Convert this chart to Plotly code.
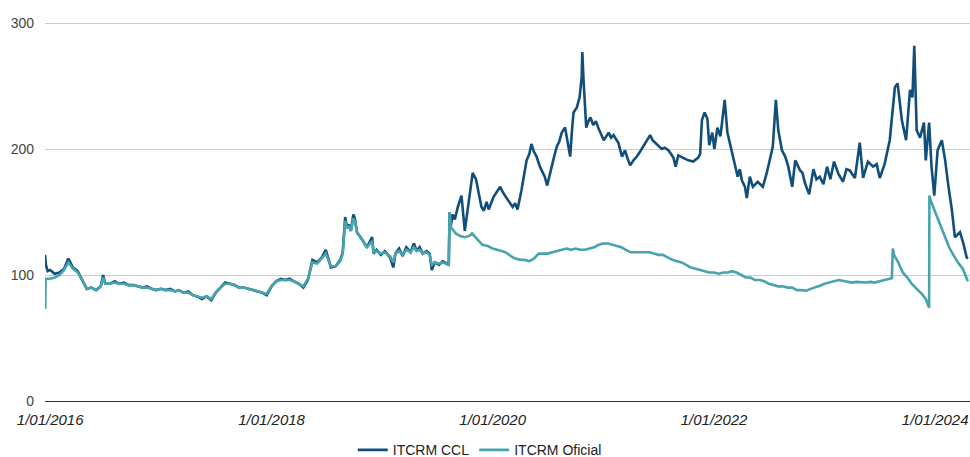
import plotly.graph_objects as go

series_names = ["ITCRM CCL", "ITCRM Oficial"]
series_colors = ["#114e7a", "#47a4ad"]

ccl_dates = [
    "2015-12-15", "2015-12-18", "2015-12-24",
    "2016-01-01", "2016-01-16", "2016-02-01", "2016-02-16", "2016-03-01", "2016-03-16",
    "2016-04-01", "2016-04-16", "2016-05-01", "2016-05-16", "2016-06-01", "2016-06-16",
    "2016-06-24", "2016-07-01", "2016-07-16", "2016-08-01", "2016-08-16", "2016-09-01",
    "2016-09-16", "2016-10-01", "2016-10-16", "2016-11-01", "2016-11-16", "2016-12-01",
    "2016-12-16",
    "2017-01-01", "2017-01-16", "2017-02-01", "2017-02-16", "2017-03-01", "2017-03-16",
    "2017-04-01", "2017-04-16", "2017-05-01", "2017-05-16", "2017-06-01", "2017-06-16",
    "2017-07-01", "2017-07-16", "2017-08-01", "2017-08-16", "2017-09-01", "2017-09-16",
    "2017-10-01", "2017-10-16", "2017-11-01", "2017-11-16", "2017-12-01", "2017-12-16",
    "2018-01-01", "2018-01-16", "2018-02-01", "2018-02-16", "2018-03-01", "2018-03-16",
    "2018-04-01", "2018-04-16", "2018-05-01", "2018-05-16", "2018-06-01", "2018-06-16",
    "2018-06-29", "2018-07-16", "2018-08-01", "2018-08-16", "2018-08-24",
    "2018-09-01", "2018-09-07", "2018-09-13", "2018-09-20", "2018-09-28", "2018-10-03",
    "2018-10-10", "2018-10-20", "2018-10-30", "2018-11-12", "2018-11-29", "2018-12-04",
    "2018-12-14", "2018-12-28",
    "2019-01-10", "2019-01-27", "2019-02-07", "2019-02-14", "2019-02-26", "2019-03-10",
    "2019-03-22", "2019-04-05", "2019-04-16", "2019-04-25", "2019-05-05", "2019-05-15",
    "2019-05-28", "2019-06-07", "2019-06-14", "2019-06-24", "2019-07-08", "2019-07-20",
    "2019-08-01", "2019-08-09", "2019-08-12", "2019-08-16", "2019-08-22", "2019-08-29",
    "2019-09-08", "2019-09-20", "2019-10-01", "2019-10-11", "2019-10-20", "2019-10-27",
    "2019-11-07", "2019-11-17", "2019-11-25", "2019-12-03", "2019-12-12", "2019-12-19",
    "2020-01-04", "2020-01-15", "2020-01-26", "2020-02-05", "2020-02-14", "2020-02-25",
    "2020-03-07", "2020-03-15", "2020-03-23", "2020-04-05", "2020-04-14", "2020-04-22",
    "2020-05-01", "2020-05-08", "2020-05-16", "2020-05-25", "2020-06-05", "2020-06-14",
    "2020-06-21", "2020-06-29", "2020-07-07", "2020-07-14", "2020-07-22", "2020-07-31",
    "2020-08-08", "2020-08-16", "2020-08-27", "2020-09-08", "2020-09-13", "2020-09-18",
    "2020-09-24", "2020-10-05", "2020-10-14", "2020-10-21", "2020-10-23", "2020-10-27",
    "2020-10-31", "2020-11-05", "2020-11-12", "2020-11-19", "2020-11-28", "2020-12-07",
    "2020-12-16", "2020-12-24",
    "2021-01-02", "2021-01-10", "2021-01-18", "2021-01-26", "2021-02-03", "2021-02-11",
    "2021-02-19", "2021-03-03", "2021-03-13", "2021-03-22", "2021-03-30", "2021-04-10",
    "2021-04-21", "2021-05-02", "2021-05-13", "2021-05-24", "2021-06-04", "2021-06-12",
    "2021-06-20", "2021-07-01", "2021-07-12", "2021-07-22", "2021-08-03", "2021-08-12",
    "2021-08-20", "2021-08-27", "2021-09-05", "2021-09-21", "2021-10-08", "2021-10-24",
    "2021-11-09", "2021-11-16", "2021-11-22", "2021-12-01", "2021-12-10", "2021-12-16",
    "2021-12-26",
    "2022-01-02", "2022-01-12", "2022-01-22", "2022-02-05", "2022-02-14", "2022-03-01",
    "2022-03-10", "2022-03-20", "2022-03-27", "2022-04-03", "2022-04-13", "2022-04-19",
    "2022-04-29", "2022-05-09", "2022-05-25", "2022-06-11", "2022-06-24", "2022-07-04",
    "2022-07-14", "2022-07-24", "2022-08-01", "2022-08-13", "2022-08-24", "2022-09-03",
    "2022-09-16", "2022-09-26", "2022-10-12", "2022-10-20", "2022-10-28", "2022-11-11",
    "2022-11-25", "2022-12-05", "2022-12-16", "2022-12-28",
    "2023-01-09", "2023-01-20", "2023-02-01", "2023-02-16", "2023-03-03", "2023-03-14",
    "2023-03-25", "2023-04-11", "2023-04-27", "2023-05-08", "2023-05-24", "2023-06-10",
    "2023-06-22", "2023-07-02", "2023-07-18", "2023-08-04", "2023-08-15", "2023-08-21",
    "2023-08-30", "2023-09-13", "2023-09-27", "2023-10-10", "2023-10-18", "2023-10-24",
    "2023-11-01", "2023-11-12", "2023-11-25", "2023-12-01", "2023-12-12", "2023-12-20",
    "2023-12-29",
    "2024-01-09", "2024-01-23", "2024-02-03", "2024-02-14", "2024-02-25", "2024-03-06",
    "2024-03-23", "2024-04-03", "2024-04-14", "2024-04-18",
]
ccl_values = [
    116, 108, 103,
    104, 101, 102, 105, 113, 106,
    103, 96, 89, 90, 88, 91,
    100, 93, 93, 95, 93, 94,
    92, 92, 91, 90, 91, 89,
    88,
    89, 88, 89, 87, 88, 86,
    87, 84, 83, 81, 83, 80,
    86, 90, 94, 93, 92, 90,
    90, 89, 88, 87, 86, 84,
    91, 95, 97, 96, 97, 95,
    93, 90, 96, 112, 110, 114,
    120, 106, 107, 112, 118,
    146, 138, 140, 135, 148, 145,
    134, 130, 127, 122, 130, 117,
    120, 116,
    119, 114, 106, 117, 121, 115,
    122, 118, 125, 119, 122, 117,
    119, 117, 104, 110, 108, 111,
    109, 108, 150, 139, 148, 144,
    154, 163, 135, 152, 168, 181,
    176, 162, 154, 151, 158, 152,
    162, 166, 170, 165, 162, 158,
    154, 157, 152, 167, 180, 191,
    196, 204, 198, 194, 186, 182,
    178, 171, 178, 186, 194, 202,
    206, 213, 217, 199, 194, 212,
    229, 233, 241, 257, 277, 255,
    240, 217, 222, 225, 219, 222,
    216, 212,
    207, 210, 213, 209, 211, 208,
    205, 194, 199, 192, 187, 191,
    194, 198, 202, 206, 211, 207,
    205, 202, 200, 201, 199, 196,
    193, 186, 195, 193, 191, 190,
    193, 196, 223, 229, 224, 203,
    213,
    200, 217, 210, 239, 213, 197,
    189, 178, 184, 175, 170, 161,
    178, 170, 174, 170, 181, 191,
    202, 239, 215, 199, 194, 186,
    170, 191, 183, 181, 173, 164,
    184, 176, 178, 172,
    186, 176, 190, 180, 174, 184,
    183, 177, 205, 177, 190, 186,
    188, 177, 188, 207, 231, 249,
    252, 223, 207, 247, 241, 282,
    215, 209, 221, 191, 221, 186,
    163,
    199, 207, 191, 170, 152, 130,
    134, 125, 114, 113,
]

ofi_dates = [
    "2015-12-15", "2015-12-16", "2015-12-17",
    "2016-01-01", "2016-01-16", "2016-02-01", "2016-02-16", "2016-03-01", "2016-03-16",
    "2016-04-01", "2016-04-16", "2016-05-01", "2016-05-16", "2016-06-01", "2016-06-16",
    "2016-06-24", "2016-07-01", "2016-07-16", "2016-08-01", "2016-08-16", "2016-09-01",
    "2016-09-16", "2016-10-01", "2016-10-16", "2016-11-01", "2016-11-16", "2016-12-01",
    "2016-12-16",
    "2017-01-01", "2017-01-16", "2017-02-01", "2017-02-16", "2017-03-01", "2017-03-16",
    "2017-04-01", "2017-04-16", "2017-05-01", "2017-05-16", "2017-06-01", "2017-06-16",
    "2017-07-01", "2017-07-16", "2017-08-01", "2017-08-16", "2017-09-01", "2017-09-16",
    "2017-10-01", "2017-10-16", "2017-11-01", "2017-11-16", "2017-12-01", "2017-12-16",
    "2018-01-01", "2018-01-16", "2018-02-01", "2018-02-16", "2018-03-01", "2018-03-16",
    "2018-04-01", "2018-04-16", "2018-05-01", "2018-05-16", "2018-06-01", "2018-06-16",
    "2018-06-29", "2018-07-16", "2018-08-01", "2018-08-16", "2018-08-24",
    "2018-09-01", "2018-09-07", "2018-09-13", "2018-09-20", "2018-09-28", "2018-10-03",
    "2018-10-10", "2018-10-20", "2018-10-30", "2018-11-12", "2018-11-29", "2018-12-04",
    "2018-12-14", "2018-12-28",
    "2019-01-10", "2019-01-27", "2019-02-07", "2019-02-14", "2019-02-26", "2019-03-10",
    "2019-03-22", "2019-04-05", "2019-04-16", "2019-04-25", "2019-05-05", "2019-05-15",
    "2019-05-28", "2019-06-07", "2019-06-14", "2019-06-24", "2019-07-08", "2019-07-20",
    "2019-08-01", "2019-08-09", "2019-08-12", "2019-08-16", "2019-09-01", "2019-09-16",
    "2019-10-01", "2019-10-16", "2019-10-25", "2019-11-09", "2019-11-28", "2019-12-16",
    "2020-01-01", "2020-01-16", "2020-02-01", "2020-02-13", "2020-03-01", "2020-03-16",
    "2020-04-01", "2020-04-16", "2020-05-01", "2020-05-16", "2020-06-01", "2020-06-16",
    "2020-07-01", "2020-07-16", "2020-08-01", "2020-08-16", "2020-09-01", "2020-09-16",
    "2020-10-01", "2020-10-16", "2020-11-01", "2020-11-16", "2020-12-01", "2020-12-16",
    "2021-01-01", "2021-01-16", "2021-02-01", "2021-02-16", "2021-03-01", "2021-03-16",
    "2021-04-01", "2021-04-16", "2021-05-01", "2021-05-16", "2021-06-01", "2021-06-16",
    "2021-07-01", "2021-07-16", "2021-08-01", "2021-08-16", "2021-09-01", "2021-09-16",
    "2021-10-01", "2021-10-16", "2021-11-01", "2021-11-16", "2021-12-01", "2021-12-16",
    "2022-01-01", "2022-01-16", "2022-02-01", "2022-02-16", "2022-03-01", "2022-03-16",
    "2022-04-01", "2022-04-16", "2022-05-01", "2022-05-16", "2022-06-01", "2022-06-16",
    "2022-07-01", "2022-07-16", "2022-08-01", "2022-08-16", "2022-09-01", "2022-09-16",
    "2022-10-01", "2022-10-16", "2022-11-01", "2022-11-16", "2022-12-01", "2022-12-16",
    "2023-01-01", "2023-01-16", "2023-02-01", "2023-02-16", "2023-03-01", "2023-03-16",
    "2023-04-01", "2023-04-16", "2023-05-01", "2023-05-16", "2023-06-01", "2023-06-16",
    "2023-07-01", "2023-07-16", "2023-08-01", "2023-08-11", "2023-08-14", "2023-08-18",
    "2023-09-01", "2023-09-16", "2023-10-01", "2023-10-16", "2023-11-01", "2023-11-16",
    "2023-12-01", "2023-12-12", "2023-12-13", "2023-12-16",
    "2024-01-01", "2024-01-16", "2024-02-01", "2024-02-16", "2024-03-01", "2024-03-16",
    "2024-04-01", "2024-04-18",
]
ofi_values = [
    74, 74, 97,
    97, 98, 100, 104, 110, 105,
    102, 96, 89, 90, 88, 91,
    98, 93, 93, 94, 93, 93,
    92, 92, 91, 90, 90, 89,
    88,
    89, 88, 88, 87, 88, 86,
    86, 84, 83, 82, 83, 81,
    86, 90, 93, 93, 92, 90,
    90, 89, 88, 87, 86, 85,
    91, 95, 96, 96, 96, 95,
    93, 91, 97, 110, 109, 113,
    117, 107, 107, 111, 117,
    143, 137, 139, 135, 145, 143,
    134, 130, 127, 122, 127, 118,
    119, 117,
    118, 115, 110, 117, 119, 116,
    120, 118, 122, 119, 120, 117,
    118, 116, 108, 110, 109, 110,
    109, 108, 150, 138, 133, 131,
    130, 131, 133, 129, 124, 123,
    121, 120, 119, 118, 115, 113,
    112, 112, 111, 113, 117, 117,
    117, 118, 119, 120, 121, 120,
    121, 120, 120, 121, 122, 124,
    125, 125, 124, 123, 122, 120,
    118, 118, 118, 118, 118, 117,
    116, 116, 114, 112, 111, 110,
    108, 106, 105, 104, 103, 102,
    102, 101, 102, 102, 103, 102,
    100, 98, 98, 96, 96, 95,
    93, 92, 91, 91, 90, 90,
    88, 88, 87.5, 89, 90, 91.5,
    93, 94, 95.5, 96, 95.5, 95,
    94, 94.5, 94, 94, 94.5, 94,
    95, 96, 97, 97.5, 121, 116,
    110, 102, 98, 93, 89, 85.5,
    81, 74, 163, 160,
    150, 141, 130, 122, 116, 110,
    105, 95,
]

tick_dates = ["2016-01-01", "2018-01-01", "2020-01-01", "2022-01-01", "2024-01-01"]
tick_labels = ["1/01/2016", "1/01/2018", "1/01/2020", "1/01/2022", "1/01/2024"]
y_ticks = [0, 100, 200, 300]
x_range = ["2015-12-15", "2024-04-25"]
y_range = [0, 300.8]

assert len(ccl_dates) == len(ccl_values), (len(ccl_dates), len(ccl_values))
assert len(ofi_dates) == len(ofi_values), (len(ofi_dates), len(ofi_values))

fig = go.Figure()
fig.add_trace(go.Scatter(
    x=ccl_dates, y=ccl_values, mode="lines", name=series_names[0],
    line=dict(color=series_colors[0], width=2.6),
))
fig.add_trace(go.Scatter(
    x=ofi_dates, y=ofi_values, mode="lines", name=series_names[1],
    line=dict(color=series_colors[1], width=2.6),
))

fig.update_layout(
    width=970, height=457,
    margin=dict(l=45, r=0, t=22, b=56, autoexpand=False),
    paper_bgcolor="white", plot_bgcolor="white",
    font=dict(family="Arial, 'Liberation Sans', sans-serif", size=14, color="#444444"),
    hovermode=False,
    showlegend=True,
    legend=dict(
        orientation="h", x=0.47, xanchor="center", y=-0.13, yanchor="middle",
        font=dict(size=14, color="#222222"), itemwidth=30,
    ),
)
fig.update_xaxes(
    type="date", range=x_range, tickvals=tick_dates, ticktext=tick_labels,
    showgrid=False, zeroline=False, showline=False, ticks="",
    ticklabelstandoff=8,
    tickfont=dict(style="italic", color="#222222", size=15),
)
fig.update_yaxes(
    range=y_range, tickvals=y_ticks, showgrid=True, gridcolor="#cccccc", gridwidth=1,
    zeroline=True, zerolinecolor="#333333", zerolinewidth=1, showline=False,
    ticks="", ticklabelstandoff=10, tickfont=dict(color="#444444", size=14),
)

fig.write_html("out.html", config={"displayModeBar": False})
